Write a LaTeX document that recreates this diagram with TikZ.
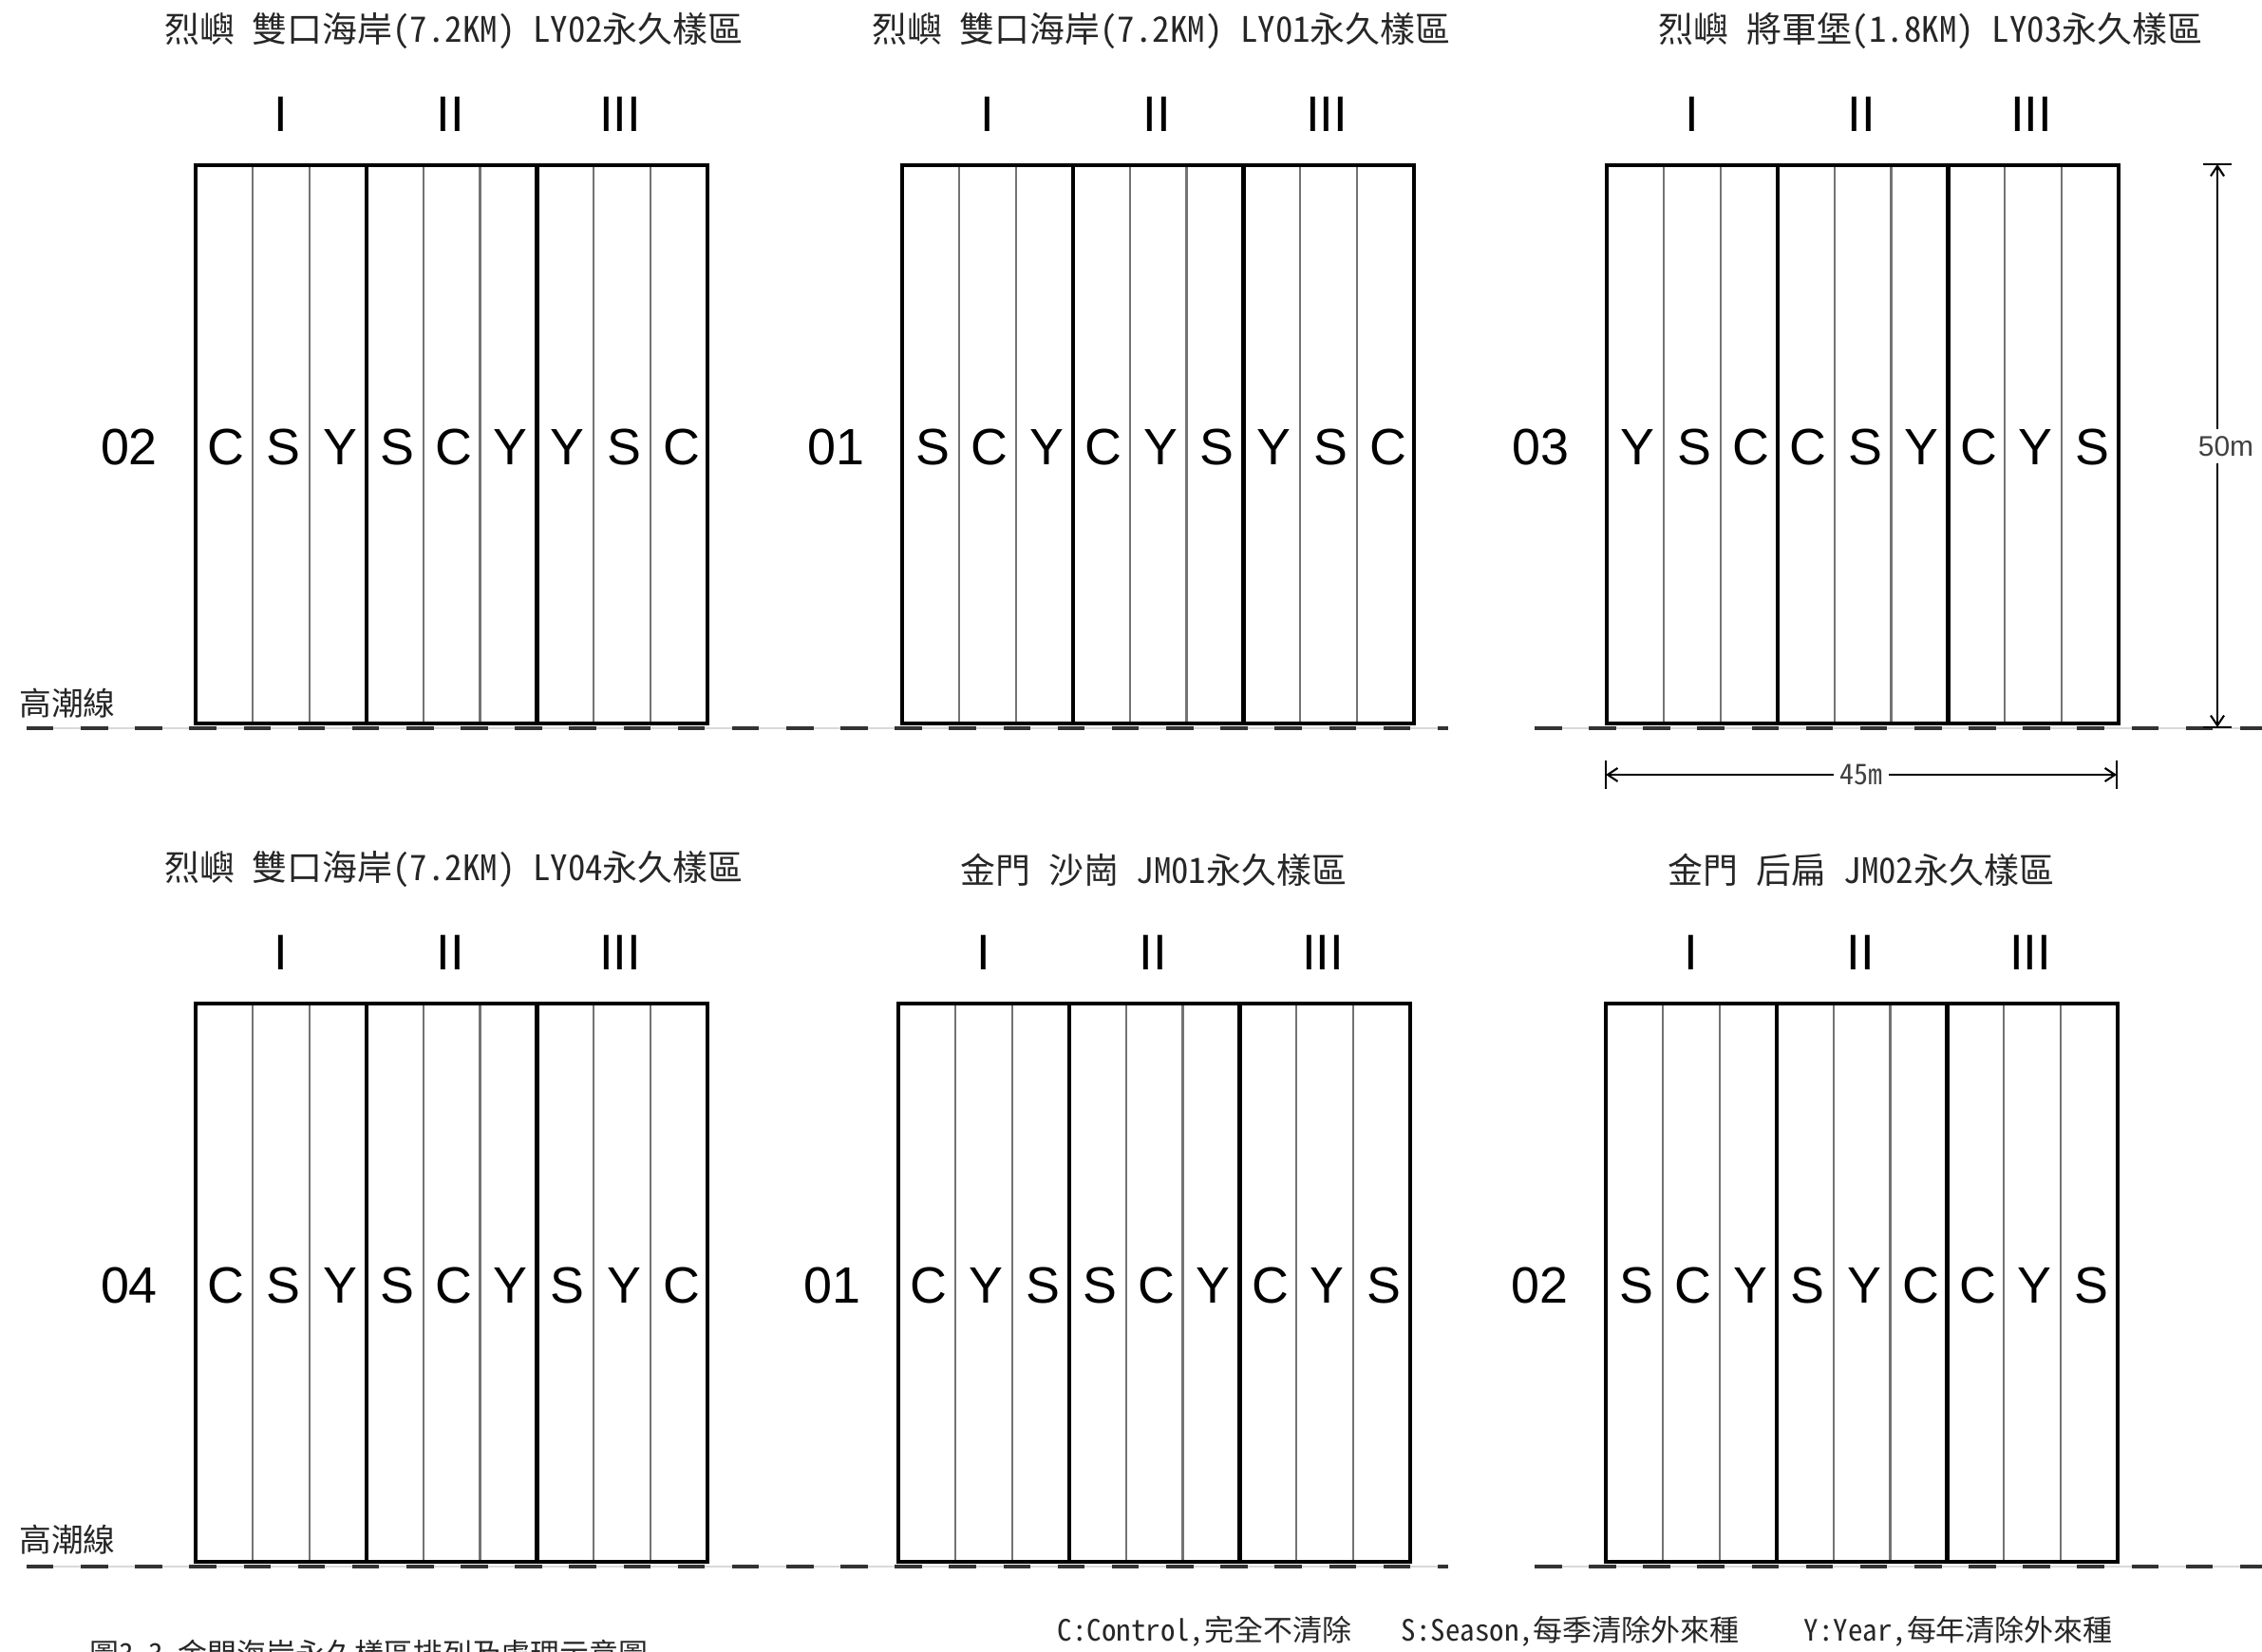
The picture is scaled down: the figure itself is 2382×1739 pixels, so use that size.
\documentclass[tikz,border=0pt]{standalone}
\usepackage{fontspec}
\setmainfont{Liberation Sans}
\newfontfamily\cjk[RawFeature=+hwid]{Noto Sans CJK TC}
\usetikzlibrary{arrows.meta}

\begin{document}
\begin{tikzpicture}[x=0.01cm,y=-0.01cm,>={Straight Barb[length=3pt,width=4pt]},line join=miter,
  plotline/.style={line width=1.25pt},
  stripline/.style={black!55,line width=0.6pt},
  tideline/.style={black!15,line width=0.45pt},
  tidedash/.style={black!80,line width=0.9pt,dash pattern=on 8.1pt off 8.15pt},
  dimline/.style={line width=0.6pt},
  codetext/.style={font=\fontsize{15.3}{17}\selectfont},
  romantext/.style={font=\fontsize{15}{17}\selectfont},
  titletext/.style={font=\cjk\fontsize{10.5}{12}\selectfont,text=black!85},
  smalltext/.style={font=\cjk\fontsize{8.8}{11}\selectfont,text=black!85}]
\useasboundingbox (0,0) rectangle (2382,1739);

% high tide lines
\foreach \ry in {767,1650}{
  \draw[tideline] (28,\ry) -- (1525,\ry);
  \draw[tideline] (1616,\ry) -- (2382,\ry);
  \draw[tidedash] (28,\ry) -- (1525,\ry);
  \draw[tidedash] (1616,\ry) -- (2382,\ry);
}
\node[titletext,font=\cjk\fontsize{9.6}{11}\selectfont] (tide-1) at (71,741) {高潮線};
\node[titletext,font=\cjk\fontsize{9.6}{11}\selectfont] (tide-2) at (71,1622) {高潮線};

% plots
\foreach \id/\px/\py/\tx/\ttl/\lab/\codes in {
  1/206/174/478/{烈嶼 雙口海岸(7.2KM) LY02永久樣區}/02/{C,S,Y,S,C,Y,Y,S,C},
  2/950/174/1223/{烈嶼 雙口海岸(7.2KM) LY01永久樣區}/01/{S,C,Y,C,Y,S,Y,S,C},
  3/1692/174/2033/{烈嶼 將軍堡(1.8KM) LY03永久樣區}/03/{Y,S,C,C,S,Y,C,Y,S},
  4/206/1057/478/{烈嶼 雙口海岸(7.2KM) LY04永久樣區}/04/{C,S,Y,S,C,Y,S,Y,C},
  5/946/1057/1215/{金門 沙崗 JM01永久樣區}/01/{C,Y,S,S,C,Y,C,Y,S},
  6/1691/1057/1960/{金門 后扁 JM02永久樣區}/02/{S,C,Y,S,Y,C,C,Y,S}}{
  \foreach \k in {1,2,4,5,7,8}
    \draw[stripline] (\px+\k*59.9,\py) -- ++(0,588);
  \foreach \k in {3,6}
    \draw[plotline] (\px+\k*59.9,\py) -- ++(0,588);
  \draw[plotline] (\px,\py) rectangle ++(539,588);
  \foreach \c [count=\k] in \codes
    \node[codetext] (p\id-\k) at (\px+\k*59.9-27.5,\py+297) {\c};
  \node[codetext] (p\id-lab) at (\px-70,\py+297) {\lab};
  \node[romantext] (p\id-r1) at (\px+89.8,\py-54) {I};
  \node[romantext] (p\id-r2) at (\px+268,\py-54) {II};
  \node[romantext] (p\id-r3) at (\px+447,\py-54) {III};
  \node[titletext] (p\id-title) at (\tx,\py-141) {\ttl};
}

% dimensions
\coordinate (w-l) at (1691,816);
\coordinate (w-r) at (2229,816);
\draw[dimline] (1691,801) -- (1691,831);
\draw[dimline] (2229,801) -- (2229,831);
\draw[dimline,<->] (w-l) -- (w-r)
  node[midway,fill=white,inner sep=2pt,font=\cjk\fontsize{8.5}{10}\selectfont,text=black!75] (w-lab) {45m};
\coordinate (h-t) at (2335,173);
\coordinate (h-b) at (2335,766);
\draw[dimline] (2320,173) -- (2350,173);
\draw[dimline] (2320,766) -- (2350,766);
\draw[dimline,<->] (h-t) -- (h-b);
\node[fill=white,inner sep=2pt,font=\fontsize{8.5}{10}\selectfont,text=black!75] (h-lab) at (2344,470) {50m};

% legend and caption
\node[smalltext,anchor=west,inner sep=0pt] (leg-c) at (1113,1718) {C:Control,完全不清除};
\node[smalltext,anchor=west,inner sep=0pt] (leg-s) at (1475,1718) {S:Season,每季清除外來種};
\node[smalltext,anchor=west,inner sep=0pt] (leg-y) at (1899,1718) {Y:Year,每年清除外來種};
\node[smalltext,anchor=north west,inner sep=0pt] (cap) at (94,1726) {圖3.3 金門海岸永久樣區排列及處理示意圖};
\end{tikzpicture}
\end{document}
